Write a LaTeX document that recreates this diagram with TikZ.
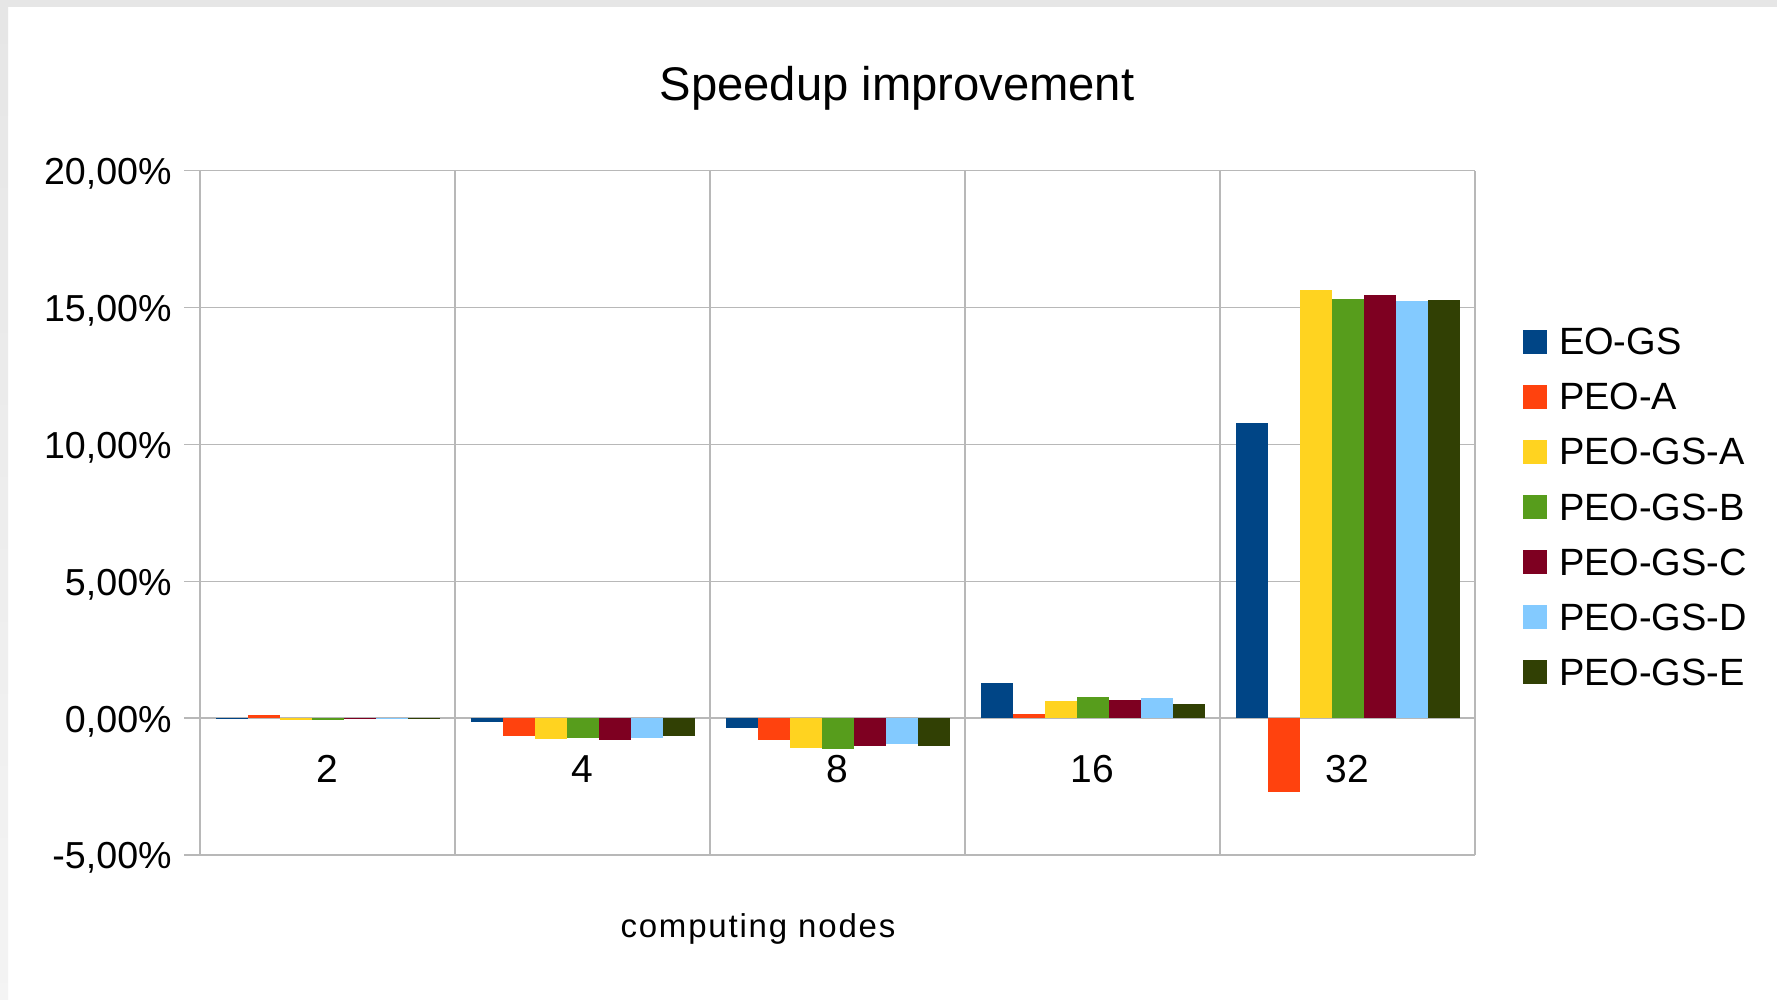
\documentclass[tikz,border=0pt]{standalone}
\usepackage{fontspec}
\setmainfont{Liberation Sans}
\newfontfamily\spacedfont[LetterSpace=5.5]{Liberation Sans}
\usepackage{tikz}
\usetikzlibrary{positioning}
\definecolor{eogs}{HTML}{004586}
\definecolor{peoa}{HTML}{FF420E}
\definecolor{peogsa}{HTML}{FFD320}
\definecolor{peogsb}{HTML}{579D1C}
\definecolor{peogsc}{HTML}{7E0021}
\definecolor{peogsd}{HTML}{83CAFF}
\definecolor{peogse}{HTML}{314004}
\definecolor{gridgray}{HTML}{B8B8B8}
\definecolor{framegray}{HTML}{E6E6E6}
\tikzstyle{gridline} = [draw=gridgray, line width=0.7pt]
\tikzstyle{legendbox} = [rectangle, inner sep=0pt, outer sep=0pt, minimum size=12pt]

\begin{document}
\begin{tikzpicture}[x=0.5pt, y=-0.5pt,
    ticklabel/.style={anchor=base east, inner sep=0pt, yshift=-7pt, font=\fontsize{18.8pt}{23pt}\selectfont},
    catlabel/.style={anchor=base, yshift=-32pt, font=\fontsize{19.5pt}{24pt}\selectfont},
    legendtext/.style={inner sep=0pt, outer sep=0pt, font=\fontsize{19pt}{22pt}\selectfont},
    node distance=15.55pt and 6pt
  ]
    \useasboundingbox (0,0) rectangle (1777,1000);
    % Frame
    \fill[white] (0,0) rectangle (1777,1000);
    \fill[framegray] (0,0) rectangle (1777,7);
    \shade[top color=framegray, bottom color=framegray!45] (0,7) rectangle (8,1000);

    % Title
    \node[anchor=base, font=\fontsize{23.6pt}{28pt}\selectfont] (title) at (897,101) {Speedup improvement};
    \node[anchor=base, font=\spacedfont\fontsize{16.5pt}{20pt}\selectfont] (xtitle) at (758,937) {computing nodes};

    % Plot area: x in pixels, y in percent
    \begin{scope}[shift={(200,718)}, y=13.68pt]
    % Grid
    \draw[gridline] (-16,20) -- (1275,20);
    \draw[gridline] (-16,15) -- (1275,15);
    \draw[gridline] (-16,10) -- (1275,10);
    \draw[gridline] (-16,5) -- (1275,5);
    \draw[gridline] (-16,0) -- (1275,0);
    \draw[gridline] (-16,-5) -- (1275,-5);
    \draw[gridline] (0,-5) -- (0,20);
    \draw[gridline] (255,-5) -- (255,20);
    \draw[gridline] (510,-5) -- (510,20);
    \draw[gridline] (765,-5) -- (765,20);
    \draw[gridline] (1020,-5) -- (1020,20);
    \draw[gridline] (1275,-5) -- (1275,20);

    % Tick labels
    \node[ticklabel] (t20) at (-28,20) {20,00\%};
    \node[ticklabel] (t15) at (-28,15) {15,00\%};
    \node[ticklabel] (t10) at (-28,10) {10,00\%};
    \node[ticklabel] (t5) at (-28,5) {5,00\%};
    \node[ticklabel] (t0) at (-28,0) {0,00\%};
    \node[ticklabel] (tm5) at (-28,-5) {-5,00\%};

    % 2 nodes
    \fill[eogs] (16,0) rectangle ++(32,-0.03);
    \fill[peoa] (48,0) rectangle ++(32,0.12);
    \fill[peogsa] (80,0) rectangle ++(32,-0.06);
    \fill[peogsb] (112,0) rectangle ++(32,-0.06);
    \fill[peogsc] (144,0) rectangle ++(32,-0.03);
    \fill[peogsd] (176,0) rectangle ++(32,-0.03);
    \fill[peogse] (208,0) rectangle ++(32,-0.03);

    % 4 nodes
    \fill[eogs] (271,0) rectangle ++(32,-0.16);
    \fill[peoa] (303,0) rectangle ++(32,-0.67);
    \fill[peogsa] (335,0) rectangle ++(32,-0.78);
    \fill[peogsb] (367,0) rectangle ++(32,-0.74);
    \fill[peogsc] (399,0) rectangle ++(32,-0.82);
    \fill[peogsd] (431,0) rectangle ++(32,-0.74);
    \fill[peogse] (463,0) rectangle ++(32,-0.67);

    % 8 nodes
    \fill[eogs] (526,0) rectangle ++(32,-0.35);
    \fill[peoa] (558,0) rectangle ++(32,-0.79);
    \fill[peogsa] (590,0) rectangle ++(32,-1.09);
    \fill[peogsb] (622,0) rectangle ++(32,-1.12);
    \fill[peogsc] (654,0) rectangle ++(32,-1.01);
    \fill[peogsd] (686,0) rectangle ++(32,-0.94);
    \fill[peogse] (718,0) rectangle ++(32,-1.01);

    % 16 nodes
    \fill[eogs] (781,0) rectangle ++(32,1.28);
    \fill[peoa] (813,0) rectangle ++(32,0.15);
    \fill[peogsa] (845,0) rectangle ++(32,0.62);
    \fill[peogsb] (877,0) rectangle ++(32,0.77);
    \fill[peogsc] (909,0) rectangle ++(32,0.66);
    \fill[peogsd] (941,0) rectangle ++(32,0.73);
    \fill[peogse] (973,0) rectangle ++(32,0.51);

    % 32 nodes
    \fill[eogs] (1036,0) rectangle ++(32,10.78);
    \fill[peoa] (1068,0) rectangle ++(32,-2.69);
    \fill[peogsa] (1100,0) rectangle ++(32,15.64);
    \fill[peogsb] (1132,0) rectangle ++(32,15.31);
    \fill[peogsc] (1164,0) rectangle ++(32,15.46);
    \fill[peogsd] (1196,0) rectangle ++(32,15.24);
    \fill[peogse] (1228,0) rectangle ++(32,15.28);

    % Category labels
    \node[catlabel] (c2) at (127.5,0) {2};
    \node[catlabel] (c4) at (382.5,0) {4};
    \node[catlabel] (c8) at (637.5,0) {8};
    \node[catlabel] (c16) at (892.5,0) {16};
    \node[catlabel] (c32) at (1147.5,0) {32};
    \end{scope}

    % Legend
    \node[legendbox, fill=eogs] (sqeogs) at (1535,341.7) {};
    \node[legendtext, right=of sqeogs] (lbeogs) {EO-GS};
    \node[legendbox, fill=peoa, below=of sqeogs] (sqpeoa) {};
    \node[legendtext, right=of sqpeoa] (lbpeoa) {PEO-A};
    \node[legendbox, fill=peogsa, below=of sqpeoa] (sqpeogsa) {};
    \node[legendtext, right=of sqpeogsa] (lbpeogsa) {PEO-GS-A};
    \node[legendbox, fill=peogsb, below=of sqpeogsa] (sqpeogsb) {};
    \node[legendtext, right=of sqpeogsb] (lbpeogsb) {PEO-GS-B};
    \node[legendbox, fill=peogsc, below=of sqpeogsb] (sqpeogsc) {};
    \node[legendtext, right=of sqpeogsc] (lbpeogsc) {PEO-GS-C};
    \node[legendbox, fill=peogsd, below=of sqpeogsc] (sqpeogsd) {};
    \node[legendtext, right=of sqpeogsd] (lbpeogsd) {PEO-GS-D};
    \node[legendbox, fill=peogse, below=of sqpeogsd] (sqpeogse) {};
    \node[legendtext, right=of sqpeogse] (lbpeogse) {PEO-GS-E};
\end{tikzpicture}
\end{document}
